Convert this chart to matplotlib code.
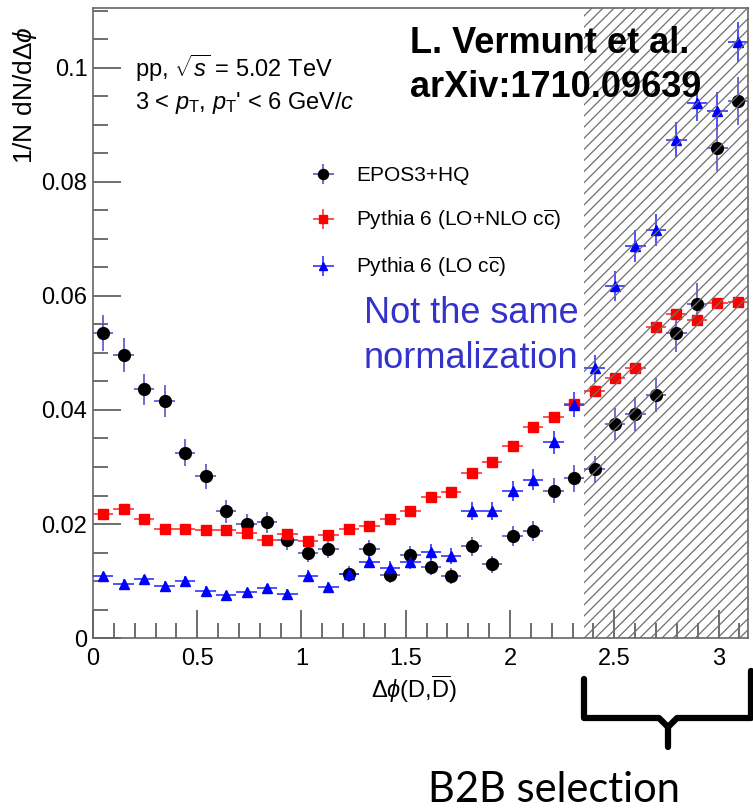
import numpy as np
import matplotlib.pyplot as plt
from matplotlib.ticker import MultipleLocator, FuncFormatter

plt.rcParams['font.family'] = ['Liberation Sans', 'DejaVu Sans']
plt.rcParams['mathtext.fontset'] = 'custom'
plt.rcParams['mathtext.rm'] = 'Liberation Sans'
plt.rcParams['mathtext.it'] = 'Liberation Sans:italic'
plt.rcParams['hatch.linewidth'] = 0.9
plt.rcParams['hatch.color'] = '#6f6f6f'

# 32 bins in delta phi from 0 to pi
n_bins = 32
edges = np.linspace(0, np.pi, n_bins + 1)
centers = 0.5 * (edges[:-1] + edges[1:])
half_width = 0.5 * (edges[1] - edges[0])

epos = [0.0535, 0.0496, 0.0436, 0.0415, 0.0325, 0.0284, 0.0222, 0.0200,
        0.0203, 0.0172, 0.0150, 0.0157, 0.0112, 0.0156, 0.0110, 0.0146,
        0.0125, 0.0108, 0.0161, 0.0129, 0.0179, 0.0188, 0.0258, 0.0280,
        0.0296, 0.0375, 0.0393, 0.0427, 0.0535, 0.0586, 0.0860, 0.0942]
epos_err = [0.0032, 0.0030, 0.0028, 0.0028, 0.0024, 0.0022, 0.0020, 0.0018,
            0.0018, 0.0017, 0.0016, 0.0016, 0.0014, 0.0016, 0.0014, 0.0015,
            0.0015, 0.0014, 0.0017, 0.0015, 0.0018, 0.0018, 0.0022, 0.0023,
            0.0024, 0.0028, 0.0029, 0.0030, 0.0034, 0.0036, 0.0040, 0.0042]

lo_nlo = [0.0217, 0.0226, 0.0209, 0.0192, 0.0192, 0.0189, 0.0189, 0.0184,
          0.0172, 0.0182, 0.0171, 0.0181, 0.0191, 0.0197, 0.0208, 0.0223,
          0.0248, 0.0257, 0.0290, 0.0308, 0.0337, 0.0371, 0.0388, 0.0411,
          0.0434, 0.0456, 0.0473, 0.0546, 0.0568, 0.0557, 0.0587, 0.0590]
lo_nlo_err = [0.0007] * 16 + [0.0008] * 8 + [0.0009] * 8

lo = [0.0108, 0.0095, 0.0103, 0.0092, 0.0100, 0.0083, 0.0075, 0.0080,
      0.0087, 0.0078, 0.0109, 0.0089, 0.0112, 0.0134, 0.0123, 0.0133,
      0.0151, 0.0144, 0.0223, 0.0223, 0.0258, 0.0278, 0.0343, 0.0409,
      0.0473, 0.0618, 0.0688, 0.0716, 0.0874, 0.0939, 0.0925, 0.1045]
lo_err = [0.0008, 0.0008, 0.0008, 0.0008, 0.0008, 0.0008, 0.0008, 0.0008,
          0.0008, 0.0008, 0.0010, 0.0010, 0.0011, 0.0012, 0.0012, 0.0012,
          0.0014, 0.0014, 0.0016, 0.0016, 0.0017, 0.0018, 0.0020, 0.0022,
          0.0024, 0.0026, 0.0028, 0.0028, 0.0031, 0.0032, 0.0032, 0.0035]

fig = plt.figure(figsize=(7.53, 8.11), dpi=100)
ax = fig.add_axes([0.1235, 0.2133, 0.8699, 0.7767])

ax.errorbar(centers, epos, yerr=epos_err, xerr=half_width, fmt='o',
            color='black', ecolor='#5555cc', elinewidth=1.2, markersize=8.5,
            capsize=0, label='EPOS3+HQ', zorder=3)
ax.errorbar(centers, lo_nlo, yerr=lo_nlo_err, xerr=half_width, fmt='s',
            color='#ff0000', ecolor='#ff3333', elinewidth=1.2, markersize=7.5,
            capsize=0, label=r'Pythia 6 (LO+NLO c$\overline{\mathrm{c}}$)', zorder=3)
ax.errorbar(centers, lo, yerr=lo_err, xerr=half_width, fmt='^',
            color='#0000ff', ecolor='#3333ff', elinewidth=1.2, markersize=7.5,
            capsize=0, label=r'Pythia 6 (LO c$\overline{\mathrm{c}}$)', zorder=3)

# back-to-back region, hatch drawn over the points
ax.axvspan(3 * np.pi / 4, np.pi, facecolor='none', edgecolor='#6f6f6f',
           hatch='///', linewidth=0, zorder=4)

ax.set_xlim(0, np.pi)
ax.set_ylim(0, 0.1105)

ax.xaxis.set_major_locator(MultipleLocator(0.5))
ax.xaxis.set_minor_locator(MultipleLocator(0.1))
ax.yaxis.set_major_locator(MultipleLocator(0.02))
ax.yaxis.set_minor_locator(MultipleLocator(0.005))
ax.xaxis.set_major_formatter(FuncFormatter(lambda v, p: f'{v:g}'))
ax.yaxis.set_major_formatter(FuncFormatter(lambda v, p: f'{v:g}'))
ax.tick_params(which='major', direction='in', length=20, width=1.2,
               color='#555555', labelsize=17)
ax.tick_params(which='minor', direction='in', length=11, width=1.2,
               color='#555555')
ax.tick_params(axis='x', pad=7)
ax.tick_params(axis='y', pad=4)
for s in ax.spines.values():
    s.set_color('#666666')
    s.set_linewidth(1.2)

ax.set_xlabel(r'$\Delta\phi$(D,$\overline{\mathrm{D}}$)', fontsize=17)
ax.set_ylabel(r'1/N dN/d$\Delta\phi$', fontsize=19)
ax.yaxis.set_label_coords(-0.082, 0.862)
ax.xaxis.set_label_coords(0.49, -0.055)

ax.text(0.064, 0.905, r'pp, $\sqrt{s}$ = 5.02 TeV', transform=ax.transAxes,
        fontsize=17, va='center', ha='left')
ax.text(0.064, 0.849, r"3 < $p_{\mathrm{T}}$, $p_{\mathrm{T}}$' < 6 GeV/$c$",
        transform=ax.transAxes, fontsize=17, va='center', ha='left')

ax.legend(loc='upper left', bbox_to_anchor=(0.316, 0.749), frameon=False,
          fontsize=15, handlelength=2.25, labelspacing=1.1,
          handletextpad=0.45, borderpad=0, borderaxespad=0, markerscale=0.85)

fig.text(410 / 753, 1 - 53 / 811, 'L. Vermunt et al.', fontsize=26,
         fontweight='bold', ha='left', va='baseline')
fig.text(410 / 753, 1 - 97 / 811, 'arXiv:1710.09639', fontsize=26,
         fontweight='bold', ha='left', va='baseline')

fig.text(471 / 753, 1 - 323 / 811, 'Not the same', fontsize=26,
         color='#3333cc', ha='center', va='baseline')
fig.text(471 / 753, 1 - 368 / 811, 'normalization', fontsize=26,
         color='#3333cc', ha='center', va='baseline')

# curly brace under the selected region
bx0, bx1 = 584 / 753, 751 / 753
bmid = 668 / 753
ytop = 1 - 679 / 811
ybar = 1 - 718 / 811
ynotch = 1 - 727 / 811
ytip = 1 - 747 / 811
fig.add_artist(plt.Line2D([bx0, bx0, bmid - 0.012, bmid, bmid + 0.012, bx1, bx1],
                          [ytop, ybar, ybar, ynotch, ybar, ybar, ytop + 0.01],
                          color='black', linewidth=4.5, transform=fig.transFigure,
                          solid_joinstyle='round', solid_capstyle='round'))
fig.add_artist(plt.Line2D([bmid, bmid], [ynotch, ytip], color='black',
                          linewidth=4.5, transform=fig.transFigure,
                          solid_capstyle='round'))

fig.text(554 / 753, 1 - 802 / 811, 'B2B selection', fontsize=30,
         family=['Lato', 'DejaVu Sans'], ha='center', va='baseline')

plt.savefig('out.png', dpi=100)
